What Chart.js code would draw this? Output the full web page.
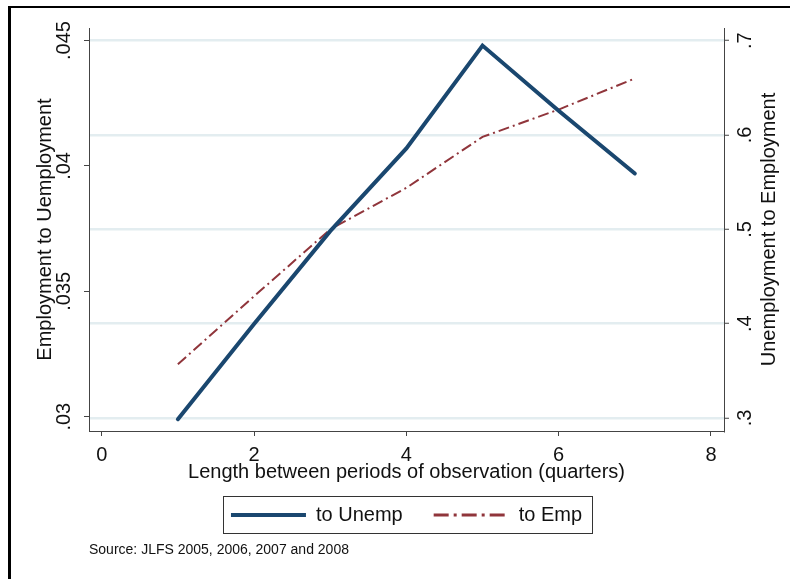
<!DOCTYPE html>
<html>
<head>
<meta charset="utf-8">
<script src="https://cdn.jsdelivr.net/npm/chart.js@4.4.0/dist/chart.umd.min.js"></script>
<style>
  html, body { margin: 0; padding: 0; background: #fff; }
  body { width: 790px; height: 579px; overflow: hidden; position: relative; }
  #frame { position: absolute; left: 8px; top: 6px; width: 1000px; height: 1000px;
           border-top: 2px solid #000; border-left: 3px solid #000; }
  #wrap { position: absolute; left: 0; top: 0; width: 790px; height: 579px; }
</style>
</head>
<body>
<div id="frame"></div>
<div id="wrap"><canvas id="chart"></canvas></div>
<script>
// Datos
const quarters = [1, 2, 3, 4, 5, 6, 7];
const toUnemp = [0.0299, 0.0337, 0.0374, 0.0407, 0.0448, 0.0422, 0.0397];
const toEmp = [0.357, 0.429, 0.500, 0.544, 0.598, 0.627, 0.660];
const seriesLabels = ['to Unemp', 'to Emp'];

// Etiquetas de los ejes
const xTicks = [0, 2, 4, 6, 8];
const leftTicks = [0.03, 0.035, 0.04, 0.045];
const rightTicks = [0.3, 0.4, 0.5, 0.6, 0.7];
const rightTitle = 'Unemployment to Employment';

const navy = '#1a476f';
const maroon = '#90353b';
const axisColor = '#444';
const gridColor = '#e3edf0';
const textColor = '#111';
const fontFamily = "'Liberation Sans', Arial, sans-serif";

Chart.defaults.font.family = fontFamily;
Chart.defaults.color = textColor;

// Quita el cero inicial: 0.045 -> .045
function stataLabel(v) {
    return String(v).replace(/^0\./, '.');
}

function fixWidth(w) {
    return scale => {
        scale.width = w;
        scale.paddingTop = 0;
        scale.paddingBottom = 0;
    };
}

// Marco alrededor de la leyenda
const legendBorder = {
    id: 'legendBorder',
    afterDraw(chart) {
        const boxes = chart.legend.legendHitBoxes;
        if (!boxes || !boxes.length) return;
        const first = boxes[0];
        const last = boxes[boxes.length - 1];
        const left = Math.round(first.left - 8);
        const right = Math.round(last.left + last.width + 10);
        const top = Math.round(first.top - 9);
        const bottom = Math.round(first.top + first.height + 8);
        const c = chart.ctx;
        c.save();
        c.strokeStyle = '#333';
        c.lineWidth = 1;
        c.strokeRect(left + 0.5, top + 0.5, right - left, bottom - top);
        c.restore();
    }
};

// Título del eje derecho, leído de abajo hacia arriba como en Stata
const rightAxisTitle = {
    id: 'rightAxisTitle',
    afterDraw(chart) {
        const s = chart.scales.y1;
        const c = chart.ctx;
        c.save();
        c.translate(s.right - 21, (s.top + s.bottom) / 2);
        c.rotate(-Math.PI / 2);
        c.textAlign = 'center';
        c.textBaseline = 'middle';
        c.fillStyle = textColor;
        c.font = '20px ' + fontFamily;
        c.fillText(rightTitle, 0, 0);
        c.restore();
    }
};

const legendWidths = [4, 3];
const legendDashes = [[], [15, 5, 3, 5]];

const ctx = document.getElementById('chart').getContext('2d');
new Chart(ctx, {
    type: 'line',
    data: {
        datasets: [{
            label: seriesLabels[0],
            data: quarters.map((q, i) => ({ x: q, y: toUnemp[i] })),
            yAxisID: 'y',
            borderColor: navy,
            backgroundColor: navy,
            borderWidth: 4,
            borderCapStyle: 'round',
            pointRadius: 0,
            tension: 0,
            fill: false
        }, {
            label: seriesLabels[1],
            data: quarters.map((q, i) => ({ x: q, y: toEmp[i] })),
            yAxisID: 'y1',
            borderColor: maroon,
            backgroundColor: maroon,
            borderWidth: 2,
            borderDash: [11, 4, 2, 4],
            pointRadius: 0,
            tension: 0,
            fill: false
        }]
    },
    options: {
        responsive: true,
        maintainAspectRatio: false,
        animation: false,
        layout: { padding: { top: 28, bottom: 20.6, left: 0, right: 0 } },
        plugins: {
            tooltip: { enabled: false },
            legend: {
                position: 'bottom',
                fullSize: false,
                labels: {
                    usePointStyle: true,
                    pointStyle: 'line',
                    pointStyleWidth: 75,
                    padding: 31,
                    color: textColor,
                    font: { size: 20 },
                    generateLabels: chart => chart.data.datasets.map((ds, i) => ({
                        text: ds.label,
                        strokeStyle: ds.borderColor,
                        fillStyle: ds.borderColor,
                        lineWidth: legendWidths[i],
                        lineDash: legendDashes[i],
                        lineCap: 'butt',
                        pointStyle: 'line',
                        fontColor: textColor,
                        hidden: false,
                        datasetIndex: i
                    }))
                }
            },
            subtitle: {
                display: true,
                text: 'Source: JLFS 2005, 2006, 2007 and 2008',
                position: 'bottom',
                align: 'start',
                fullSize: false,
                color: textColor,
                font: { size: 14, weight: 'normal' },
                padding: { top: 6.6, bottom: 0 }
            }
        },
        scales: {
            x: {
                type: 'linear',
                position: 'bottom',
                min: -0.167,
                max: 8.171,
                afterBuildTicks: scale => { scale.ticks = xTicks.map(v => ({ value: v })); },
                afterFit: scale => { scale.height = 43; scale.paddingLeft = 0; scale.paddingRight = 0; },
                grid: { drawOnChartArea: false, drawTicks: true, tickLength: 5, tickColor: axisColor },
                border: { display: true, color: axisColor, width: 1 },
                ticks: { autoSkip: false, padding: 7, color: textColor, font: { size: 20 } },
                title: {
                    display: true,
                    text: 'Length between periods of observation (quarters)',
                    color: textColor,
                    font: { size: 20 },
                    padding: { top: 0, bottom: -10 }
                }
            },
            y: {
                type: 'linear',
                position: 'left',
                min: 0.02943,
                max: 0.0455,
                afterBuildTicks: scale => { scale.ticks = leftTicks.map(v => ({ value: v })); },
                afterFit: fixWidth(89),
                grid: { drawOnChartArea: false, drawTicks: true, tickLength: 5, tickColor: axisColor },
                border: { display: true, color: axisColor, width: 1 },
                ticks: {
                    autoSkip: false,
                    minRotation: 90,
                    maxRotation: 90,
                    crossAlign: 'center',
                    padding: 0,
                    color: textColor,
                    font: { size: 20 },
                    callback: stataLabel
                },
                title: {
                    display: true,
                    text: 'Employment to Uemployment',
                    color: textColor,
                    font: { size: 20 },
                    padding: { top: 33, bottom: 0 }
                }
            },
            y1: {
                type: 'linear',
                position: 'right',
                min: 0.28622,
                max: 0.71346,
                afterBuildTicks: scale => { scale.ticks = rightTicks.map(v => ({ value: v })); },
                afterFit: fixWidth(66),
                grid: { drawOnChartArea: true, color: gridColor, lineWidth: 2.5, drawTicks: true, tickLength: 5, tickColor: axisColor, tickWidth: 1 },
                border: { display: true, color: axisColor, width: 1 },
                ticks: {
                    autoSkip: false,
                    minRotation: 90,
                    maxRotation: 90,
                    crossAlign: 'center',
                    padding: 7.7,
                    color: textColor,
                    font: { size: 20 },
                    callback: stataLabel
                },
                title: { display: false }
            }
        }
    },
    plugins: [legendBorder, rightAxisTitle]
});
</script>
</body>
</html>
